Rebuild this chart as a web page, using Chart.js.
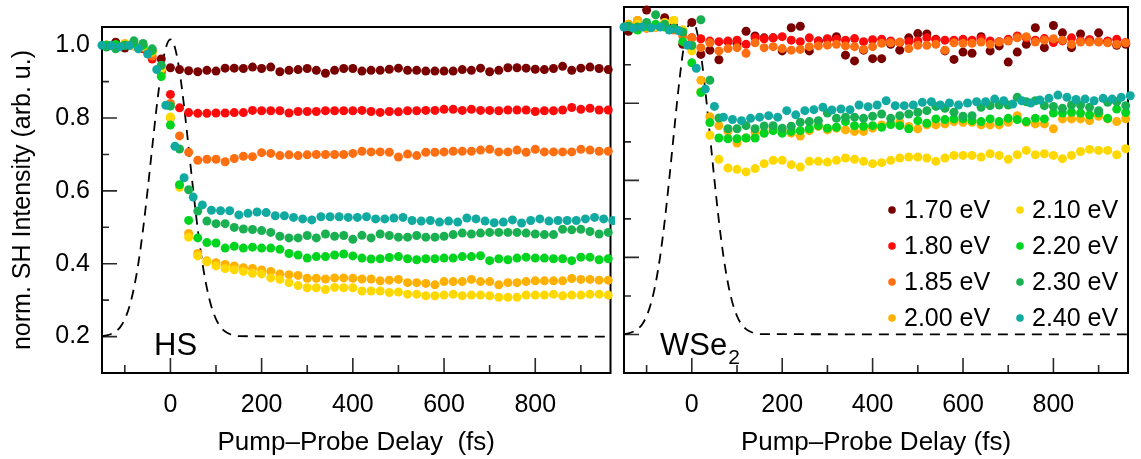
<!DOCTYPE html>
<html>
<head>
<meta charset="utf-8">
<script src="https://cdn.jsdelivr.net/npm/chart.js@4.4.0/dist/chart.umd.min.js"></script>
<style>
  html, body { margin: 0; padding: 0; background: #fff; }
  #wrap { position: relative; width: 1141px; height: 459px; }
  #hsChart { position: absolute; left: 0; top: 0; }
  #wseChart { position: absolute; left: 615px; top: 0; }
</style>
</head>
<body>
<div id="wrap">
  <canvas id="hsChart" width="615" height="459"></canvas>
  <canvas id="wseChart" width="526" height="459"></canvas>
</div>
<script>
// probe photon energies, one series each
const energyLabels = ['1.70 eV', '1.80 eV', '1.85 eV', '2.00 eV', '2.10 eV', '2.20 eV', '2.30 eV', '2.40 eV'];
const energyColors = ['#7a0000', '#ff0a0a', '#ff6e10', '#ffb000', '#ffd800', '#00d41e', '#18b050', '#10aaa0'];

// pump-probe delays (fs); the 2.40 eV scans sit on the shifted grid
const delayEven = [-140, -120, -100, -80, -60, -40, -20, 0, 20, 40, 60, 80, 100, 120, 140, 160, 180, 200,
  220, 240, 260, 280, 300, 320, 340, 360, 380, 400, 420, 440, 460, 480, 500, 520, 540, 560, 580, 600,
  620, 640, 660, 680, 700, 720, 740, 760, 780, 800, 820, 840, 860, 880, 900, 920, 940, 960];
const delayOdd = [-150, -130, -110, -90, -70, -50, -30, -10, 10, 30, 50, 70, 90, 110, 130, 150, 170, 190,
  210, 230, 250, 270, 290, 310, 330, 350, 370, 390, 410, 430, 450, 470, 490, 510, 530, 550, 570, 590,
  610, 630, 650, 670, 690, 710, 730, 750, 770, 790, 810, 830, 850, 870, 890, 910, 930, 950, 970];

// pump pulse cross-correlation (dashed trace)
const pulseDelay = [-150, -140, -130, -120, -110, -100, -90, -80, -70, -60, -50, -40, -30, -20, -10, 0,
  10, 20, 30, 40, 50, 60, 70, 80, 90, 100, 110, 120, 130, 140, 150, 965];
const pulseLevel = [0.201, 0.203, 0.207, 0.214, 0.226, 0.248, 0.282, 0.333, 0.403, 0.494, 0.602, 0.718,
  0.832, 0.929, 0.993, 1.016, 0.993, 0.929, 0.832, 0.718, 0.602, 0.494, 0.403, 0.333, 0.282, 0.248,
  0.226, 0.214, 0.207, 0.203, 0.201, 0.2];

// ---- heterostructure (HS) ----
const hs170 = [1.0, 1.008, 0.992, 1.0, 0.997, 0.985, 0.962, 0.938, 0.933, 0.930, 0.927, 0.931, 0.929, 0.937,
  0.937, 0.936, 0.940, 0.936, 0.940, 0.927, 0.931, 0.933, 0.936, 0.931, 0.923, 0.931, 0.936, 0.936, 0.929,
  0.931, 0.931, 0.934, 0.937, 0.931, 0.931, 0.929, 0.929, 0.929, 0.929, 0.933, 0.931, 0.937, 0.927, 0.931,
  0.938, 0.938, 0.937, 0.934, 0.933, 0.936, 0.942, 0.931, 0.937, 0.940, 0.936, 0.933];
const hs180 = [1.0, 1.0, 1.0, 0.998, 0.99, 0.962, 0.925, 0.865, 0.828, 0.815, 0.813, 0.813, 0.814, 0.814,
  0.815, 0.815, 0.821, 0.820, 0.820, 0.820, 0.814, 0.818, 0.818, 0.818, 0.820, 0.820, 0.820, 0.820, 0.821,
  0.818, 0.8155, 0.818, 0.817, 0.820, 0.820, 0.821, 0.821, 0.824, 0.824, 0.821, 0.824, 0.821, 0.821, 0.820,
  0.822, 0.822, 0.822, 0.818, 0.820, 0.820, 0.822, 0.829, 0.824, 0.827, 0.822, 0.822];
const hs185 = [0.998, 1.0, 1.002, 1.0, 0.995, 0.97, 0.93, 0.84, 0.751, 0.706, 0.684, 0.687, 0.687, 0.680,
  0.689, 0.695, 0.694, 0.705, 0.703, 0.697, 0.699, 0.697, 0.699, 0.700, 0.700, 0.700, 0.700, 0.703, 0.709,
  0.707, 0.707, 0.706, 0.693, 0.701, 0.697, 0.706, 0.706, 0.707, 0.709, 0.709, 0.709, 0.712, 0.714, 0.707,
  0.707, 0.712, 0.706, 0.714, 0.707, 0.707, 0.707, 0.707, 0.714, 0.712, 0.709, 0.709];
const hs200 = [1.0, 1.0, 1.005, 0.998, 0.995, 0.98, 0.938, 0.80, 0.615, 0.483, 0.428, 0.408, 0.403, 0.398,
  0.394, 0.389, 0.387, 0.383, 0.379, 0.372, 0.370, 0.368, 0.360, 0.360, 0.358, 0.361, 0.361, 0.360, 0.358,
  0.358, 0.353, 0.355, 0.357, 0.348, 0.348, 0.346, 0.342, 0.351, 0.351, 0.351, 0.357, 0.351, 0.351, 0.342,
  0.348, 0.348, 0.351, 0.353, 0.353, 0.353, 0.353, 0.3595, 0.357, 0.357, 0.355, 0.355];
const hs210 = [1.0, 0.998, 1.002, 1.0, 0.997, 0.985, 0.935, 0.803, 0.61, 0.473, 0.4215, 0.405, 0.394, 0.387,
  0.3835, 0.379, 0.374, 0.372, 0.361, 0.357, 0.348, 0.340, 0.334, 0.334, 0.329, 0.335, 0.334, 0.334, 0.325,
  0.325, 0.325, 0.321, 0.3225, 0.3165, 0.3165, 0.312, 0.312, 0.314, 0.3165, 0.312, 0.314, 0.314, 0.312,
  0.308, 0.308, 0.308, 0.314, 0.314, 0.314, 0.3165, 0.312, 0.314, 0.314, 0.3165, 0.3165, 0.314];
const hs220 = [1.0, 1.002, 1.0, 1.005, 1.0, 0.985, 0.914, 0.781, 0.617, 0.519, 0.471, 0.458, 0.457, 0.443,
  0.448, 0.443, 0.4455, 0.443, 0.443, 0.4395, 0.428, 0.424, 0.4155, 0.4196, 0.4196, 0.424, 0.4266, 0.4214,
  0.4155, 0.413, 0.4137, 0.417, 0.4197, 0.4137, 0.411, 0.4137, 0.4137, 0.4155, 0.4155, 0.4197, 0.4197,
  0.422, 0.4085, 0.4137, 0.411, 0.4155, 0.418, 0.4155, 0.4155, 0.4137, 0.4137, 0.4085, 0.418, 0.418,
  0.411, 0.4137];
const hs230 = [0.995, 0.99, 1.0, 1.012, 1.005, 0.99, 0.945, 0.833, 0.715, 0.603, 0.5445, 0.517, 0.51, 0.51,
  0.4997, 0.4954, 0.494, 0.491, 0.486, 0.4756, 0.471, 0.471, 0.4774, 0.471, 0.4816, 0.4756, 0.4774, 0.467,
  0.478, 0.471, 0.4816, 0.4774, 0.473, 0.473, 0.4774, 0.473, 0.473, 0.4756, 0.48, 0.4842, 0.4816, 0.4842,
  0.486, 0.486, 0.486, 0.486, 0.4842, 0.4816, 0.48, 0.48, 0.4945, 0.493, 0.4945, 0.4885, 0.4816, 0.486];
const hs240 = [1.0, 0.999, 0.996, 0.999, 0.99, 0.976, 0.933, 0.835, 0.7225, 0.636, 0.583, 0.5616, 0.547,
  0.5455, 0.5455, 0.534, 0.5384, 0.542, 0.5405, 0.5316, 0.5316, 0.5272, 0.523, 0.5203, 0.529, 0.529, 0.529,
  0.5272, 0.5272, 0.529, 0.523, 0.523, 0.5255, 0.5272, 0.5187, 0.517, 0.5187, 0.5144, 0.517, 0.5144,
  0.5255, 0.523, 0.517, 0.5126, 0.5144, 0.5204, 0.5117, 0.5187, 0.523, 0.517, 0.5187, 0.5187, 0.5187,
  0.523, 0.5272, 0.523, 0.5187];

// ---- WSe2 monolayer ----
const ws170 = [0.987, 1.0, 1.042, 1.0, 1.022, 1.0, 0.953, 1.01, 0.927, 0.938, 0.913, 0.96, 0.955, 0.987,
  0.975, 0.970, 0.970, 0.936, 0.996, 1.0, 0.936, 0.962, 0.966, 0.973, 0.925, 0.91, 0.938, 0.916, 0.916,
  0.953, 0.938, 0.970, 0.981, 0.98, 0.966, 0.936, 0.914, 0.933, 0.93, 0.973, 0.936, 0.949, 0.907, 0.933,
  0.953, 0.996, 0.9445, 1.002, 0.983, 0.9445, 0.98, 0.9645, 0.983, 0.959, 0.9505, 0.953];
const ws180 = [1.0, 1.005, 0.995, 0.998, 1.0, 0.995, 0.985, 0.97, 0.9677, 0.9616, 0.96, 0.9616, 0.964,
  0.953, 0.97, 0.9677, 0.97, 0.973, 0.964, 0.96, 0.97, 0.9616, 0.9677, 0.966, 0.964, 0.968, 0.96, 0.965,
  0.966, 0.962, 0.958, 0.96, 0.962, 0.97, 0.965, 0.964, 0.964, 0.966, 0.964, 0.968, 0.962, 0.96, 0.966,
  0.975, 0.97, 0.964, 0.968, 0.958, 0.962, 0.97, 0.962, 0.965, 0.96, 0.962, 0.966, 0.958];
const ws185 = [1.005, 1.015, 1.0, 0.998, 1.0, 0.99, 0.975, 0.97, 0.9445, 0.957, 0.936, 0.942, 0.9445, 0.93,
  0.957, 0.9445, 0.947, 0.942, 0.938, 0.94, 0.947, 0.949, 0.951, 0.953, 0.949, 0.947, 0.94, 0.947, 0.9556,
  0.957, 0.959, 0.942, 0.9505, 0.9505, 0.953, 0.938, 0.957, 0.9556, 0.9556, 0.959, 0.953, 0.959, 0.9616,
  0.97, 0.973, 0.959, 0.964, 0.9677, 0.964, 0.953, 0.959, 0.959, 0.959, 0.957, 0.953, 0.957];
const ws200 = [1.005, 1.015, 0.995, 1.0, 1.005, 1.015, 0.99, 0.95, 0.86, 0.765, 0.742, 0.727, 0.697, 0.71,
  0.725, 0.7245, 0.7355, 0.729, 0.7226, 0.715, 0.729, 0.74, 0.731, 0.7355, 0.731, 0.727, 0.727, 0.7355,
  0.744, 0.7466, 0.751, 0.74, 0.7337, 0.744, 0.744, 0.7466, 0.7525, 0.751, 0.751, 0.744, 0.744, 0.744,
  0.751, 0.768, 0.751, 0.7466, 0.7466, 0.7337, 0.7595, 0.7595, 0.7595, 0.755, 0.7665, 0.7595, 0.7525, 0.76];
const ws210 = [1.0, 1.005, 1.002, 0.998, 1.01, 1.015, 0.99, 0.936, 0.83, 0.717, 0.6545, 0.6322, 0.6287,
  0.622, 0.6305, 0.6434, 0.652, 0.652, 0.6408, 0.6348, 0.6493, 0.6493, 0.6475, 0.652, 0.658, 0.6545,
  0.6493, 0.6434, 0.646, 0.652, 0.658, 0.6606, 0.6606, 0.658, 0.6493, 0.658, 0.6648, 0.6648, 0.6648,
  0.6606, 0.6692, 0.6648, 0.6545, 0.6665, 0.6777, 0.6665, 0.6692, 0.6648, 0.6563, 0.6648, 0.675, 0.6803,
  0.6777, 0.6777, 0.6665, 0.682];
const ws220 = [1.0, 0.99, 1.0, 1.005, 0.998, 0.995, 0.96, 0.905, 0.828, 0.75, 0.71, 0.708, 0.708, 0.71,
  0.71, 0.722, 0.729, 0.7226, 0.727, 0.729, 0.734, 0.742, 0.7355, 0.738, 0.7525, 0.742, 0.7406, 0.742,
  0.738, 0.745, 0.742, 0.7337, 0.755, 0.7484, 0.7595, 0.7577, 0.7595, 0.7595, 0.755, 0.7525, 0.7595,
  0.7525, 0.761, 0.7577, 0.7525, 0.761, 0.7595, 0.775, 0.775, 0.7767, 0.775, 0.7698, 0.775, 0.761, 0.785,
  0.776];
const ws230 = [1.0, 0.998, 1.01, 1.03, 1.005, 0.995, 0.985, 0.95, 1.017, 0.86, 0.762, 0.734, 0.734, 0.742,
  0.734, 0.741, 0.742, 0.7355, 0.7406, 0.751, 0.7526, 0.755, 0.775, 0.761, 0.764, 0.764, 0.761, 0.7665,
  0.7724, 0.761, 0.768, 0.7724, 0.7767, 0.781, 0.792, 0.787, 0.7767, 0.7665, 0.768, 0.7896, 0.794, 0.7956,
  0.7956, 0.8155, 0.804, 0.8067, 0.794, 0.792, 0.787, 0.7956, 0.7956, 0.7896, 0.781, 0.8025, 0.804, 0.794];
const ws240 = [0.998, 0.995, 0.998, 0.996, 0.998, 0.99, 0.989, 0.951, 0.891, 0.837, 0.792, 0.764, 0.758,
  0.755, 0.761, 0.764, 0.768, 0.764, 0.781, 0.770, 0.781, 0.7835, 0.7897, 0.7826, 0.7853, 0.7835, 0.7956,
  0.7913, 0.7956, 0.8067, 0.794, 0.794, 0.7956, 0.8025, 0.804, 0.7956, 0.8008, 0.7956, 0.8008, 0.804,
  0.804, 0.811, 0.8067, 0.798, 0.8067, 0.8008, 0.8085, 0.813, 0.8214, 0.8155, 0.81, 0.811, 0.8067, 0.813,
  0.811, 0.8155, 0.8196];

const hsSeries = [hs170, hs180, hs185, hs200, hs210, hs220, hs230, hs240];
const wsSeries = [ws170, ws180, ws185, ws200, ws210, ws220, ws230, ws240];

const xMajor = [0, 200, 400, 600, 800];
const xMinor = [-100, 100, 300, 500, 700, 900];
const yMajor = [0.2, 0.4, 0.6, 0.8, 1.0];
const yMinor = [0.3, 0.5, 0.7, 0.9];

const FONT = "'Liberation Sans', Arial, Helvetica, sans-serif";

// box frame plus inward tick marks on left and bottom edges
const frameTicks = {
  id: 'frameTicks',
  beforeDatasetsDraw(chart) {
    const { ctx, chartArea: a, scales: { x, y } } = chart;
    ctx.save();
    ctx.strokeStyle = '#2a2a2a';
    ctx.lineWidth = 1.6;
    ctx.beginPath();
    xMajor.forEach(v => { const p = x.getPixelForValue(v); ctx.moveTo(p, a.bottom); ctx.lineTo(p, a.bottom - 15); });
    xMinor.forEach(v => { const p = x.getPixelForValue(v); ctx.moveTo(p, a.bottom); ctx.lineTo(p, a.bottom - 8); });
    yMajor.forEach(v => { const p = y.getPixelForValue(v); ctx.moveTo(a.left, p); ctx.lineTo(a.left + 15, p); });
    yMinor.forEach(v => { const p = y.getPixelForValue(v); ctx.moveTo(a.left, p); ctx.lineTo(a.left + 7, p); });
    ctx.stroke();
    ctx.strokeStyle = '#000';
    ctx.lineWidth = 2;
    ctx.strokeRect(a.left, a.top, a.right - a.left, a.bottom - a.top);
    ctx.restore();
  }
};

// sample name in the lower-left corner of each panel
const sampleTag = {
  id: 'sampleTag',
  afterDatasetsDraw(chart, args, opts) {
    const { ctx, chartArea: a } = chart;
    ctx.save();
    ctx.fillStyle = '#000';
    ctx.textBaseline = 'alphabetic';
    ctx.font = '31px ' + FONT;
    ctx.fillText(opts.text, a.left + opts.dx, a.bottom - 18);
    if (opts.sub) {
      const w = ctx.measureText(opts.text).width;
      ctx.font = '21px ' + FONT;
      ctx.fillText(opts.sub, a.left + opts.dx + w + 1, a.bottom - 9);
    }
    ctx.restore();
  }
};

// two-column legend inside the WSe2 panel
const energyLegend = {
  id: 'energyLegend',
  afterDatasetsDraw(chart) {
    const { ctx, chartArea: a } = chart;
    ctx.save();
    ctx.font = '25px ' + FONT;
    ctx.textBaseline = 'middle';
    ctx.fillStyle = '#000';
    energyLabels.forEach((label, i) => {
      const col = Math.floor(i / 4), row = i % 4;
      const cx = a.right - 236 + col * 128;
      const cy = a.bottom - 163 + row * 36;
      ctx.fillStyle = energyColors[i];
      ctx.beginPath();
      ctx.arc(cx, cy, 3.8, 0, Math.PI * 2);
      ctx.fill();
      ctx.fillStyle = '#000';
      ctx.fillText(label, cx + 12, cy + 1);
    });
    ctx.restore();
  }
};

function buildDatasets(series) {
  const sets = series.map((vals, i) => {
    const xs = i === 7 ? delayOdd : delayEven;
    return {
      label: energyLabels[i],
      data: vals.map((v, k) => ({ x: xs[k], y: v })),
      showLine: false,
      pointRadius: 4.5,
      pointBorderWidth: 0,
      pointBackgroundColor: energyColors[i],
      borderColor: energyColors[i],
      clip: false,
      order: 10 - i
    };
  });
  sets.push({
    label: 'pulse',
    data: pulseDelay.map((d, k) => ({ x: d, y: pulseLevel[k] })),
    showLine: true,
    pointRadius: 0,
    borderColor: '#000',
    borderWidth: 1.8,
    borderDash: [10, 7],
    cubicInterpolationMode: 'monotone',
    order: 20
  });
  return sets;
}

function makePanel(canvasId, series, opts) {
  return new Chart(document.getElementById(canvasId), {
    type: 'scatter',
    data: { datasets: buildDatasets(series) },
    options: {
      responsive: false,
      animation: false,
      events: [],
      layout: { padding: { top: 7, right: opts.padRight, left: 0, bottom: 0 } },
      plugins: {
        legend: { display: false },
        tooltip: { enabled: false },
        sampleTag: { text: opts.tag, sub: opts.tagSub, dx: opts.tagDx }
      },
      scales: {
        x: {
          type: 'linear',
          min: -150,
          max: 965,
          grid: { display: false, drawTicks: false },
          border: { display: false },
          afterBuildTicks: s => { s.ticks = xMajor.map(v => ({ value: v })); },
          afterFit: s => { s.height = 86; },
          ticks: {
            padding: 17,
            color: '#000',
            maxRotation: 0,
            autoSkip: false,
            font: { family: FONT, size: 25 },
            callback: v => String(v)
          },
          title: {
            display: true,
            text: opts.xTitle,
            color: '#000',
            font: { family: FONT, size: 26 },
            padding: { top: 0, bottom: 1 }
          }
        },
        y: {
          type: 'linear',
          min: 0.1,
          max: 1.05,
          grid: { display: false, drawTicks: false },
          border: { display: false },
          afterBuildTicks: s => { s.ticks = yMajor.map(v => ({ value: v })); },
          afterFit: s => { s.width = opts.yWidth; },
          ticks: {
            display: opts.showY,
            padding: 12,
            color: '#000',
            font: { family: FONT, size: 25 },
            callback: v => Number(v).toFixed(1)
          },
          title: {
            display: opts.showY,
            text: 'norm. SH Intensity (arb. u.)',
            color: '#000',
            font: { family: FONT, size: 25 },
            padding: { top: 8, bottom: 0 }
          }
        }
      }
    },
    plugins: opts.legend ? [frameTicks, sampleTag, energyLegend] : [frameTicks, sampleTag]
  });
}

makePanel('hsChart', hsSeries, {
  padRight: 2, yWidth: 102, showY: true,
  xTitle: 'Pump\u2013Probe Delay  (fs)',
  tag: 'HS', tagSub: '', tagDx: 52, legend: false
});
makePanel('wseChart', wsSeries, {
  padRight: 13, yWidth: 9, showY: false,
  xTitle: 'Pump\u2013Probe Delay (fs)',
  tag: 'WSe', tagSub: '2', tagDx: 36, legend: true
});
</script>
</body>
</html>
